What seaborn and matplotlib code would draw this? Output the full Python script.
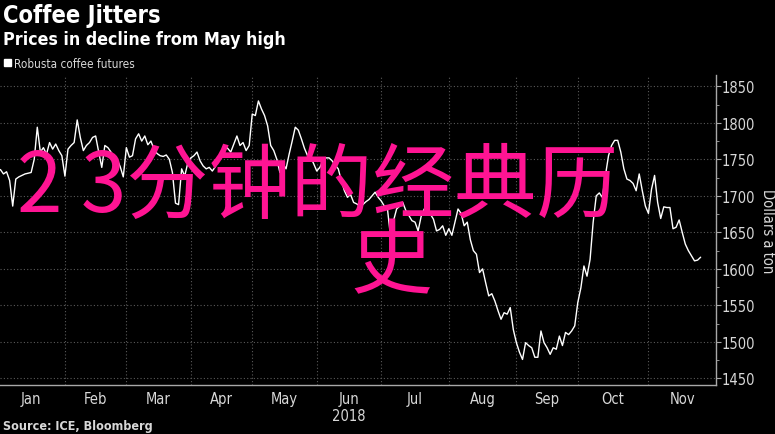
import numpy as np
import pandas as pd
import seaborn as sns
import matplotlib.pyplot as plt
from matplotlib.patches import Patch
from matplotlib.ticker import FixedLocator, MultipleLocator, NullFormatter

# Robusta coffee futures, one value per ICE Europe trading day from 2 Jan 2018
prices = [
    1734, 1736, 1730, 1733, 1721, 1686, 1723, 1726, 1728, 1730,
    1731, 1732, 1750, 1794, 1760, 1766, 1757, 1773, 1764, 1771,
    1762, 1755, 1727, 1764, 1769, 1773, 1804, 1780, 1762,
    1769, 1773, 1780, 1782, 1760, 1739, 1769, 1766, 1760, 1753,
    1750, 1740, 1726, 1766, 1753, 1755, 1778, 1785, 1775, 1782,
    1770, 1775, 1764, 1758, 1755, 1754, 1756, 1750, 1732, 1690,
    1688, 1737, 1727, 1745, 1752, 1755, 1760, 1748, 1741, 1737,
    1739, 1734, 1740, 1750, 1760, 1769, 1765, 1760, 1771,
    1782, 1769, 1773, 1762, 1769, 1812, 1810, 1830, 1819, 1810,
    1796, 1769, 1762, 1750, 1732, 1744, 1737, 1757, 1775, 1794,
    1790, 1778, 1765, 1755, 1753, 1744, 1734, 1739, 1748, 1752,
    1752, 1748, 1742, 1737, 1721, 1707, 1698, 1702, 1691,
    1689, 1686, 1688, 1692, 1695, 1700, 1705, 1698, 1693, 1686,
    1683, 1645, 1666, 1682, 1686, 1691, 1680, 1673, 1666, 1664,
    1652, 1672, 1682, 1686, 1675, 1668, 1652, 1654, 1659,
    1646, 1655, 1646, 1664, 1682, 1676, 1659, 1664, 1640, 1625,
    1620, 1595, 1600, 1581, 1563, 1566, 1556, 1543, 1531, 1540,
    1538, 1547, 1517, 1499, 1486, 1476, 1499, 1495, 1492, 1479,
    1479, 1515, 1499, 1492, 1483, 1492, 1490, 1508, 1495, 1513,
    1510, 1515, 1522, 1554, 1574, 1604, 1590, 1613, 1664, 1700,
    1704, 1698, 1728, 1755, 1769, 1776, 1776, 1760, 1737,
    1723, 1721, 1717, 1707, 1730, 1707, 1686, 1676, 1709, 1728,
    1691, 1669, 1685, 1684, 1684, 1655, 1657, 1667, 1650, 1634,
    1625, 1618, 1611, 1612, 1616,
]
holidays = ['2018-01-01', '2018-03-30', '2018-04-02', '2018-05-07',
            '2018-05-28', '2018-08-27']
months = ['Jan', 'Feb', 'Mar', 'Apr', 'May', 'Jun\n2018', 'Jul', 'Aug',
          'Sep', 'Oct', 'Nov']
yticks = [1450, 1500, 1550, 1600, 1650, 1700, 1750, 1800, 1850]

# x axis runs on trading days, like the terminal chart
dates = pd.bdate_range('2018-01-02', periods=len(prices), freq='C', holidays=holidays)
day = np.busday_count('2018-01-01', dates.values.astype('datetime64[D]'), holidays=holidays)
month_starts = pd.date_range('2018-01-01', '2018-12-01', freq='MS')
month_pos = np.busday_count('2018-01-01', month_starts.values.astype('datetime64[D]'),
                            holidays=holidays)
df = pd.DataFrame({'day': day, 'price': prices})

sns.set_style('dark')
plt.rcParams['font.family'] = ['DejaVu Sans']
plt.rcParams['font.stretch'] = 'condensed'

W, H = 775, 435
fig = plt.figure(figsize=(W / 100, H / 100), dpi=100, facecolor='black')
ax = fig.add_axes([0, 1 - 386 / H, 716 / W, (386 - 76) / H])
ax.set_facecolor('black')

sns.lineplot(data=df, x='day', y='price', color='white', lw=1.0, ax=ax)

ax.set_xlim(0.86, month_pos[-1])
ax.set_ylim(1441, 1865.5)

grey = '#a8a8a8'
txt = '#d8d8d8'
for s in ['top', 'left']:
    ax.spines[s].set_visible(False)
for s in ['right', 'bottom']:
    ax.spines[s].set_color(grey)
    ax.spines[s].set_linewidth(1)

# x: boundaries as major ticks, month names centred as minor ticks
ax.xaxis.set_major_locator(FixedLocator(month_pos[1:]))
ax.xaxis.set_major_formatter(NullFormatter())
mids = (month_pos[:-1] + month_pos[1:]) / 2
ax.set_xticks(mids, months, minor=True)
ax.tick_params(axis='x', which='major', length=3.6, color=grey, direction='out')
ax.tick_params(axis='x', which='minor', length=0, pad=4, labelcolor=txt, labelsize=10.5)

# y on the right
ax.yaxis.tick_right()
ax.yaxis.set_label_position('right')
ax.set_yticks(yticks)
ax.yaxis.set_minor_locator(MultipleLocator(25))
ax.tick_params(axis='y', which='major', length=3.6, color=grey, direction='out',
               labelcolor=txt, labelsize=10.5, pad=0.5)
ax.tick_params(axis='y', which='minor', length=2.2, color=grey, direction='out')
ax.set_ylabel('Dollars a ton', rotation=270, color=txt, fontsize=10.5, labelpad=14)
ax.set_xlabel('')

ax.grid(True, which='major', color='#5a5a5a', linestyle=(0, (1, 2)), lw=0.8)

fig.text(3 / W, 1 - 16 / H, 'Coffee Jitters', color='white', fontsize=17,
         fontweight='bold', va='center', ha='left')
fig.text(3 / W, 1 - 40 / H, 'Prices in decline from May high', color='white',
         fontsize=12.8, fontweight='bold', va='center', ha='left')
fig.legend(handles=[Patch(color='white', label='Robusta coffee futures')],
           loc='center left', bbox_to_anchor=(0, 1 - 64 / H), frameon=False,
           handlelength=0.6, handleheight=0.6, handletextpad=0.3,
           borderaxespad=0, borderpad=0.3, labelcolor=txt, fontsize=8.5)
fig.text(3 / W, 1 - 427 / H, 'Source: ICE, Bloomberg', color=txt, fontsize=9,
         fontweight='bold', va='center', ha='left')

# overlaid pink caption
cjk = ['Noto Sans CJK SC', 'DejaVu Sans']
fig.text(17 / W, 1 - 188 / H, '2 3分钟的经典历', color='#ff1493', fontsize=59,
         family=cjk, fontstretch='normal', va='center', ha='left', zorder=10)
fig.text(391 / W, 1 - 264 / H, '史', color='#ff1493', fontsize=59,
         family=cjk, fontstretch='normal', va='center', ha='center', zorder=10)

fig.savefig('out.png', dpi=100, facecolor='black')
